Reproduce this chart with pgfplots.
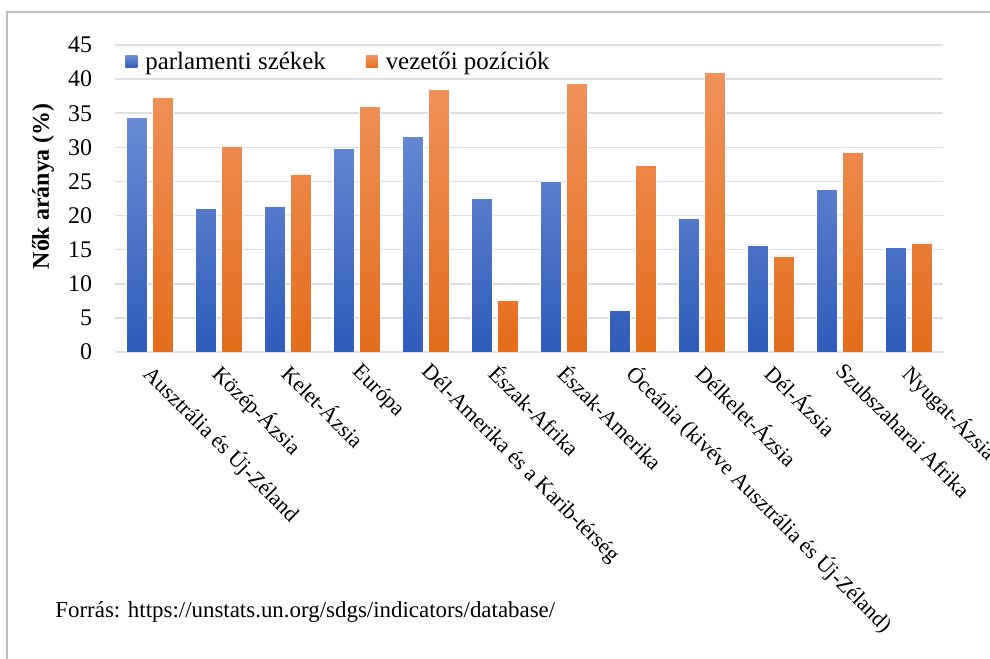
\documentclass[border=0pt]{standalone}
\usepackage{fontspec}
\setmainfont{Liberation Serif}
\usepackage{pgfplots}
\pgfplotsset{compat=1.18}
\definecolor{bluetop}{HTML}{6A8CD4}
\definecolor{bluebot}{HTML}{2E5CBA}
\definecolor{orangetop}{HTML}{F0925C}
\definecolor{orangebot}{HTML}{E56D1C}
\definecolor{gridgray}{HTML}{DCE0E6}
\definecolor{framegray}{HTML}{BFBFBF}

\begin{document}
\begin{tikzpicture}
\useasboundingbox (0,0) rectangle (495bp,329.5bp);
\draw[framegray, line width=0.8bp] (3.5bp,-1bp) -- (3.5bp,323.5bp) -- (497bp,323.5bp);
\begin{axis}[
  at={(57.5bp,153.5bp)}, anchor=south west,
  scale only axis, width=414bp, height=153.5bp,
  xmin=-0.5, xmax=11.5, ymin=0, ymax=45,
  ybar, bar width=10.5bp,
  ytick={0,5,...,45},
  xtick={0,...,11},
  xticklabels={Ausztrália és Új-Zéland, Közép-Ázsia, Kelet-Ázsia, Európa,
    Dél-Amerika és a Karib-térség, Észak-Afrika, Észak-Amerika,
    Óceánia (kivéve Ausztrália és Új-Zéland), Délkelet-Ázsia, Dél-Ázsia,
    Szubszaharai Afrika, Nyugat-Ázsia},
  xticklabel style={xshift=3bp, rotate=-45, anchor=north west, font=\fontsize{11}{13}\selectfont},
  yticklabel style={font=\fontsize{12}{14}\selectfont, xshift=-8bp},
  /pgf/number format/assume math mode=true,
  major tick length=0pt,
  axis lines*=left,
  x axis line style={draw=gridgray, line width=0.75bp, -},
  y axis line style={draw=none},
  ymajorgrids, grid style={gridgray, line width=0.75bp},
  ylabel={Nők aránya (\%)},
  ylabel style={at={(axis description cs:-0.087,0.54)}, anchor=center, font=\bfseries\fontsize{12}{14}\selectfont},
  legend columns=2,
  legend style={at={(axis description cs:0.012,0.945)}, anchor=west, draw=none, fill=none,
    font=\fontsize{12.5}{14}\selectfont, inner sep=0pt,
    /tikz/every odd column/.append style={column sep=2bp},
    /tikz/every even column/.append style={column sep=18bp}},
  legend image code/.code={\path[#1, draw=none] (0bp,-3bp) rectangle (6bp,3bp);},
]
\addplot[bar shift=-6.5bp, top color=bluetop, bottom color=bluebot, draw=white, line width=0.3bp]
  coordinates {(0,34.4) (1,21.1) (2,21.4) (3,29.9) (4,31.6) (5,22.6) (6,25.0) (7,6.1) (8,19.6) (9,15.7) (10,23.8) (11,15.3)};
\addplot[bar shift=6.5bp, top color=orangetop, bottom color=orangebot, draw=white, line width=0.3bp]
  coordinates {(0,37.4) (1,30.2) (2,26.1) (3,36.0) (4,38.5) (5,7.6) (6,39.4) (7,27.4) (8,41.0) (9,14.1) (10,29.3) (11,16.0)};
\legend{parlamenti székek, vezetői pozíciók}
\end{axis}
\node[anchor=base west, inner sep=0pt, font=\fontsize{11.5}{13}\selectfont] at (27.5bp,21bp) {Forrás: https://unstats.un.org/sdgs/indicators/database/};
\end{tikzpicture}
\end{document}
